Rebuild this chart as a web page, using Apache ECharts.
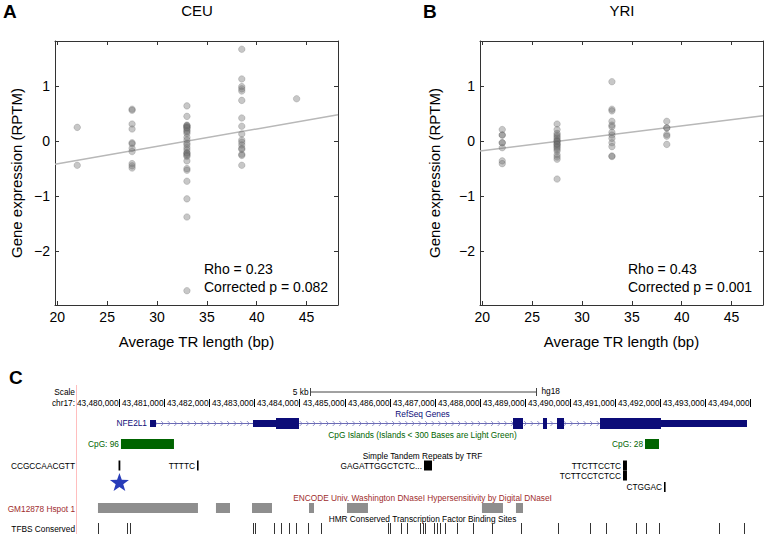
<!DOCTYPE html>
<html>
<head>
<meta charset="utf-8">
<script src="https://cdn.jsdelivr.net/npm/echarts@6/dist/echarts.min.js"></script>
<style>html,body{margin:0;padding:0;background:#fff;}#c{width:764px;height:534px;}</style>
</head>
<body>
<div id="c"></div>
<script>
// ---------------- DATA ----------------
const trLengths = [22, 27.5, 33, 38.5, 44];
const ceuGroups = [
  [0.25, -0.44],
  [0.58, 0.56, 0.31, 0.22, -0.03, -0.05, -0.13, -0.19, -0.41, -0.45, -0.49],
  [0.64, 0.45, 0.29, 0.28, 0.27, 0.25, 0.24, 0.22, 0.19, 0.17, 0.14, 0.07, 0.02, -0.04, -0.07, -0.12, -0.16, -0.21, -0.22, -0.24, -0.26, -0.28, -0.36, -0.50, -0.53, -0.73, -1.05, -1.38, -2.72],
  [1.67, 1.13, 0.99, 0.95, 0.91, 0.74, 0.42, 0.27, 0.13, 0.02, -0.02, -0.07, -0.13, -0.15, -0.24, -0.26, -0.44],
  [0.77]
];
const yriGroups = [
  [0.21, 0.11, 0.11, -0.03, -0.03, -0.12, -0.36, -0.41],
  [0.31, 0.21, 0.14, 0.11, 0.08, 0.05, 0.02, 0.0, -0.01, -0.04, -0.06, -0.07, -0.10, -0.12, -0.15, -0.18, -0.25, -0.29, -0.33, -0.69],
  [1.08, 0.58, 0.55, 0.36, 0.29, 0.26, 0.16, 0.11, 0.05, -0.03, -0.10, -0.27, -0.28],
  [0.36, 0.24, 0.24, 0.12, 0.09, -0.06],
  []
];
const ceuFit = [[19.77, -0.42], [48.15, 0.48]];
const yriFit = [[19.77, -0.18], [48.15, 0.46]];
const ceuStats = ['Rho = 0.23', 'Corrected p = 0.082'];
const yriStats = ['Rho = 0.43', 'Corrected p = 0.001'];
const xTicks = [20, 25, 30, 35, 40, 45];
const yTicks = [-2, -1, 0, 1];

// genome browser (hg18, chr17)
const rulerPositions = [43480000, 43481000, 43482000, 43483000, 43484000, 43485000, 43486000, 43487000,
  43488000, 43489000, 43490000, 43491000, 43492000, 43493000, 43494000];
const scaleBar = [43484240, 43489240];
const geneName = 'NFE2L1';
const geneSpan = [43480687, 43493923];
const geneExons = [ // [start, end, type]
  [43480687, 43480820, 'utr'],
  [43482971, 43483481, 'utr'],
  [43483481, 43483991, 'cds'],
  [43488735, 43488957, 'cds'],
  [43489400, 43489489, 'cds'],
  [43489711, 43489866, 'cds'],
  [43490664, 43492016, 'cds'],
  [43492016, 43493923, 'utr']
];
const cpgIslands = [[43480044, 43481219, 'CpG: 96'], [43491662, 43491972, 'CpG: 28']];
const trfRepeats = [ // [start, end, row, label]
  [43479990, 43480030, 0, 'CCGCCAACGTT'],
  [43481729, 43481765, 0, 'TTTTC'],
  [43486762, 43486939, 0, 'GAGATTGGCTCTC...'],
  [43491174, 43491262, 0, 'TTCTTCCTC'],
  [43491174, 43491262, 1, 'TCTTCCTCTCC'],
  [43492083, 43492110, 2, 'CTGGAC']
];
const markedRepeat = [43480010];
const dnaseHotspots = [[43479534, 43481751], [43482150, 43482461], [43482949, 43483392], [43484212, 43484323],
  [43485055, 43485520], [43488047, 43488513], [43488801, 43488957]];
const tfbsSites = [43479541, 43480168, 43480239, 43482962, 43483013, 43483432, 43483600, 43483760, 43483931,
  43484199, 43484478, 43485955, 43486006, 43486245, 43486394, 43486673, 43486733, 43486793, 43486973,
  43487044, 43487123, 43487223, 43487493, 43487848, 43488269, 43488919, 43489737, 43490446, 43490794,
  43491462, 43491683, 43491963, 43493309, 43493856];

// ---------------- LAYOUT / STYLE ----------------
const FONT = 'Liberation Sans, Arial, Helvetica, sans-serif';
const XMIN = 19.77, XMAX = 48.15, YMIN = -2.98, YMAX = 1.82;
const G_MIN = 43479047, G_MAX = 43494300;
const Y = { scale: 392, ruler: 403, gene: 423, cpg: 444, trf: [465.5, 475.5, 487], star: 483, dnase: 508, tfbs: 523 };
const SMALL = '8.3px ' + FONT;
const navy = 'rgb(12,12,120)', green = 'rgb(0,100,0)', brick = 'rgb(160,45,45)';

function minusFmt(v) { return v < 0 ? '\u2212' + Math.abs(v) : String(v); }
function flatten(groups) {
  const out = [];
  groups.forEach((g, i) => g.forEach(v => out.push([trLengths[i], v])));
  return out;
}
function commas(n) { return String(n).replace(/\B(?=(\d{3})+(?!\d))/g, ','); }

function scatterAxes(gridIndex, nameGap) {
  const frame = { show: true, onZero: false, lineStyle: { color: '#333', width: 1 } };
  const xs = [
    { type: 'value', gridIndex, min: XMIN, max: XMAX, position: 'bottom',
      axisLine: frame, splitLine: { show: false },
      axisTick: { inside: true, length: 4, customValues: xTicks, lineStyle: { color: '#333' } },
      axisLabel: { customValues: xTicks, fontSize: 14, fontFamily: FONT, color: '#000', margin: 5 },
      name: 'Average TR length (bp)', nameLocation: 'middle', nameGap: 29,
      nameTextStyle: { fontSize: 15, fontFamily: FONT, color: '#000' } },
    { type: 'value', gridIndex, min: XMIN, max: XMAX, position: 'top',
      axisLine: frame, splitLine: { show: false },
      axisTick: { inside: true, length: 4, customValues: xTicks, lineStyle: { color: '#333' } },
      axisLabel: { show: false } }
  ];
  const ys = [
    { type: 'value', gridIndex, min: YMIN, max: YMAX, position: 'left',
      axisLine: frame, splitLine: { show: false },
      axisTick: { inside: true, length: 4, customValues: yTicks, lineStyle: { color: '#333' } },
      axisLabel: { customValues: yTicks, formatter: minusFmt, fontSize: 14, fontFamily: FONT, color: '#000', margin: 5 },
      name: 'Gene expression (RPTM)', nameLocation: 'middle', nameGap: nameGap,
      nameTextStyle: { fontSize: 15, fontFamily: FONT, color: '#000' } },
    { type: 'value', gridIndex, min: YMIN, max: YMAX, position: 'right',
      axisLine: frame, splitLine: { show: false },
      axisTick: { inside: true, length: 4, customValues: yTicks, lineStyle: { color: '#333' } },
      axisLabel: { show: false } }
  ];
  return { xs, ys };
}
const axA = scatterAxes(0, 31), axB = scatterAxes(1, 38);
const cX = { type: 'value', gridIndex: 2, min: G_MIN, max: G_MAX, show: false };
const cY = { type: 'value', gridIndex: 2, min: 0, max: 1, show: false };

const pointStyle = { color: 'rgba(115,115,115,0.5)', borderColor: 'rgba(70,70,70,0.45)', borderWidth: 0.6 };
function scatterSeries(groups, xi, yi) {
  return { type: 'scatter', xAxisIndex: xi, yAxisIndex: yi, data: flatten(groups), symbolSize: 6.5,
    itemStyle: pointStyle, silent: true, z: 3 };
}
function fitSeries(pts, xi, yi) {
  return { type: 'line', xAxisIndex: xi, yAxisIndex: yi, data: pts, symbol: 'none',
    lineStyle: { color: '#b8b8b8', width: 1.5 }, silent: true, z: 2 };
}
function cx(api, v) { return api.coord([v, 0])[0]; }

const cBase = { type: 'custom', coordinateSystem: 'cartesian2d', xAxisIndex: 4, yAxisIndex: 4, silent: true, clip: false };

const series = [
  fitSeries(ceuFit, 0, 0), scatterSeries(ceuGroups, 0, 0),
  fitSeries(yriFit, 2, 2), scatterSeries(yriGroups, 2, 2),
  // ruler
  Object.assign({}, cBase, { data: rulerPositions.map(p => [p]), encode: { x: 0 },
    renderItem(params, api) {
      const x = Math.round(cx(api, api.value(0))) + 0.5;
      return { type: 'group', children: [
        { type: 'line', shape: { x1: x, y1: Y.ruler - 4, x2: x, y2: Y.ruler + 4 }, style: { stroke: '#000', lineWidth: 1 } },
        { type: 'text', style: { text: commas(api.value(0)), x: x - 1, y: Y.ruler, align: 'right', verticalAlign: 'middle', font: SMALL, fill: '#000' } }
      ] };
    } }),
  // scale bar
  Object.assign({}, cBase, { data: [scaleBar], encode: { x: [0, 1] },
    renderItem(params, api) {
      const a = Math.round(cx(api, api.value(0))) + 0.5, b = Math.round(cx(api, api.value(1))) + 0.5;
      return { type: 'group', children: [
        { type: 'line', shape: { x1: a, y1: Y.scale, x2: b, y2: Y.scale }, style: { stroke: '#444', lineWidth: 1 } },
        { type: 'line', shape: { x1: a, y1: Y.scale - 4, x2: a, y2: Y.scale + 4 }, style: { stroke: '#444', lineWidth: 1 } },
        { type: 'line', shape: { x1: b, y1: Y.scale - 4, x2: b, y2: Y.scale + 4 }, style: { stroke: '#444', lineWidth: 1 } },
        { type: 'text', style: { text: '5 kb', x: a - 2, y: Y.scale, align: 'right', verticalAlign: 'middle', font: SMALL, fill: '#000' } },
        { type: 'text', style: { text: 'hg18', x: b + 5, y: Y.scale - 1, align: 'left', verticalAlign: 'middle', font: SMALL, fill: '#000' } }
      ] };
    } }),
  // gene backbone with arrows
  Object.assign({}, cBase, { data: [geneSpan], encode: { x: [0, 1] },
    renderItem(params, api) {
      const a = cx(api, api.value(0)), b = cx(api, api.value(1));
      const ch = [{ type: 'line', shape: { x1: a, y1: Y.gene + 0.5, x2: b, y2: Y.gene + 0.5 }, style: { stroke: '#6a6ab4', lineWidth: 1 } }];
      for (let x = a + 6; x < b - 3; x += 6.6) {
        ch.push({ type: 'polyline', shape: { points: [[x - 1.5, Y.gene - 2], [x + 1, Y.gene + 0.5], [x - 1.5, Y.gene + 3]] },
          style: { stroke: '#7a7ac0', lineWidth: 0.8, fill: null } });
      }
      ch.push({ type: 'text', style: { text: geneName, x: a - 3, y: Y.gene, align: 'right', verticalAlign: 'middle', font: SMALL, fill: navy } });
      return { type: 'group', children: ch };
    } }),
  // exons
  Object.assign({}, cBase, { data: geneExons.map(e => [e[0], e[1], e[2] === 'cds' ? 1 : 0]), encode: { x: [0, 1] },
    renderItem(params, api) {
      const a = cx(api, api.value(0)), b = cx(api, api.value(1));
      const h = api.value(2) ? 11 : 7;
      return { type: 'rect', shape: { x: a, y: Y.gene + 0.5 - h / 2, width: Math.max(b - a, 1), height: h }, style: { fill: navy } };
    } }),
  // CpG islands
  Object.assign({}, cBase, { data: cpgIslands.map(c => [c[0], c[1]]), encode: { x: [0, 1] },
    renderItem(params, api) {
      const a = cx(api, api.value(0)), b = cx(api, api.value(1));
      return { type: 'group', children: [
        { type: 'rect', shape: { x: a, y: Y.cpg - 5, width: b - a, height: 10 }, style: { fill: green } },
        { type: 'text', style: { text: cpgIslands[params.dataIndex][2], x: a - 2, y: Y.cpg, align: 'right', verticalAlign: 'middle', font: SMALL, fill: green } }
      ] };
    } }),
  // simple tandem repeats
  Object.assign({}, cBase, { data: trfRepeats.map(r => [r[0], r[1], r[2]]), encode: { x: [0, 1] },
    renderItem(params, api) {
      const a = cx(api, api.value(0)), b = cx(api, api.value(1));
      const yy = Y.trf[api.value(2)];
      const lbl = trfRepeats[params.dataIndex][3];
      const lx = params.dataIndex === 0 ? 75 : a - 2;
      return { type: 'group', children: [
        { type: 'rect', shape: { x: a, y: yy - 5, width: Math.max(b - a, 1.6), height: 10 }, style: { fill: '#000' } },
        { type: 'text', style: { text: lbl, x: lx, y: yy, align: 'right', verticalAlign: 'middle', font: SMALL, fill: '#000' } }
      ] };
    } }),
  // star marking the studied repeat
  Object.assign({}, cBase, { data: markedRepeat.map(p => [p]), encode: { x: 0 },
    renderItem(params, api) {
      const x = cx(api, api.value(0)), y = Y.star, R = 10, r = 4;
      const pts = [];
      for (let i = 0; i < 10; i++) {
        const ang = -Math.PI / 2 + i * Math.PI / 5, rad = i % 2 ? r : R;
        pts.push([x + rad * Math.cos(ang), y + rad * Math.sin(ang)]);
      }
      return { type: 'polygon', shape: { points: pts }, style: { fill: 'rgb(40,60,185)' } };
    } }),
  // DNaseI hotspots
  Object.assign({}, cBase, { data: dnaseHotspots, encode: { x: [0, 1] },
    renderItem(params, api) {
      const a = cx(api, api.value(0)), b = cx(api, api.value(1));
      return { type: 'rect', shape: { x: a, y: Y.dnase - 5, width: b - a, height: 10 }, style: { fill: '#8e8e8e' } };
    } }),
  // TFBS conserved
  Object.assign({}, cBase, { data: tfbsSites.map(p => [p]), encode: { x: 0 },
    renderItem(params, api) {
      const x = Math.round(cx(api, api.value(0))) + 0.5;
      return { type: 'line', shape: { x1: x, y1: Y.tfbs, x2: x, y2: 534 }, style: { stroke: '#333', lineWidth: 1 } };
    } })
];

function txt(text, x, y, opt) {
  return { type: 'text', x: x, y: y, style: Object.assign({ text: text, fill: '#000', font: SMALL, align: 'center', verticalAlign: 'middle' }, opt || {}) };
}
const graphic = [
  txt('A', 3, 11, { font: 'bold 19px ' + FONT, align: 'left' }),
  txt('CEU', 197, 10, { font: '15px ' + FONT }),
  txt('B', 423, 11, { font: 'bold 19px ' + FONT, align: 'left' }),
  txt('YRI', 622, 10, { font: '15px ' + FONT }),
  txt(ceuStats[0], 204, 269, { font: '14px ' + FONT, align: 'left' }),
  txt(ceuStats[1], 204, 287, { font: '14px ' + FONT, align: 'left' }),
  txt(yriStats[0], 628, 269, { font: '14px ' + FONT, align: 'left' }),
  txt(yriStats[1], 628, 287, { font: '14px ' + FONT, align: 'left' }),
  txt('C', 9, 377, { font: 'bold 19px ' + FONT, align: 'left' }),
  { type: 'line', shape: { x1: 76.5, y1: 385, x2: 76.5, y2: 534 }, style: { stroke: 'rgb(255,190,190)', lineWidth: 1 } },
  txt('Scale', 75, Y.scale, { align: 'right' }),
  txt('chr17:', 75, Y.ruler, { align: 'right' }),
  txt('RefSeq Genes', 422.5, 413.5, { fill: navy }),
  txt('CpG Islands (Islands < 300 Bases are Light Green)', 422.5, 434.5, { fill: green }),
  txt('Simple Tandem Repeats by TRF', 422.5, 456, {}),
  txt('ENCODE Univ. Washington DNaseI Hypersensitivity by Digital DNaseI', 422.5, 498, { fill: brick }),
  txt('GM12878 Hspot 1', 75, 508.5, { align: 'right', fill: brick }),
  txt('HMR Conserved Transcription Factor Binding Sites', 422.5, 519, {}),
  txt('TFBS Conserved', 75, 529, { align: 'right' })
];

const option = {
  animation: false,
  backgroundColor: '#fff',
  grid: [
    { left: 55, top: 41, width: 283, height: 264 },
    { left: 480, top: 41, width: 283, height: 264 },
    { left: 76, top: 380, width: 688, height: 154 }
  ],
  xAxis: [axA.xs[0], axA.xs[1], axB.xs[0], axB.xs[1], cX],
  yAxis: [axA.ys[0], axA.ys[1], axB.ys[0], axB.ys[1], cY],
  series: series,
  graphic: graphic
};
const chart = echarts.init(document.getElementById('c'), null, { renderer: 'svg' });
chart.setOption(option);
</script>
</body>
</html>
